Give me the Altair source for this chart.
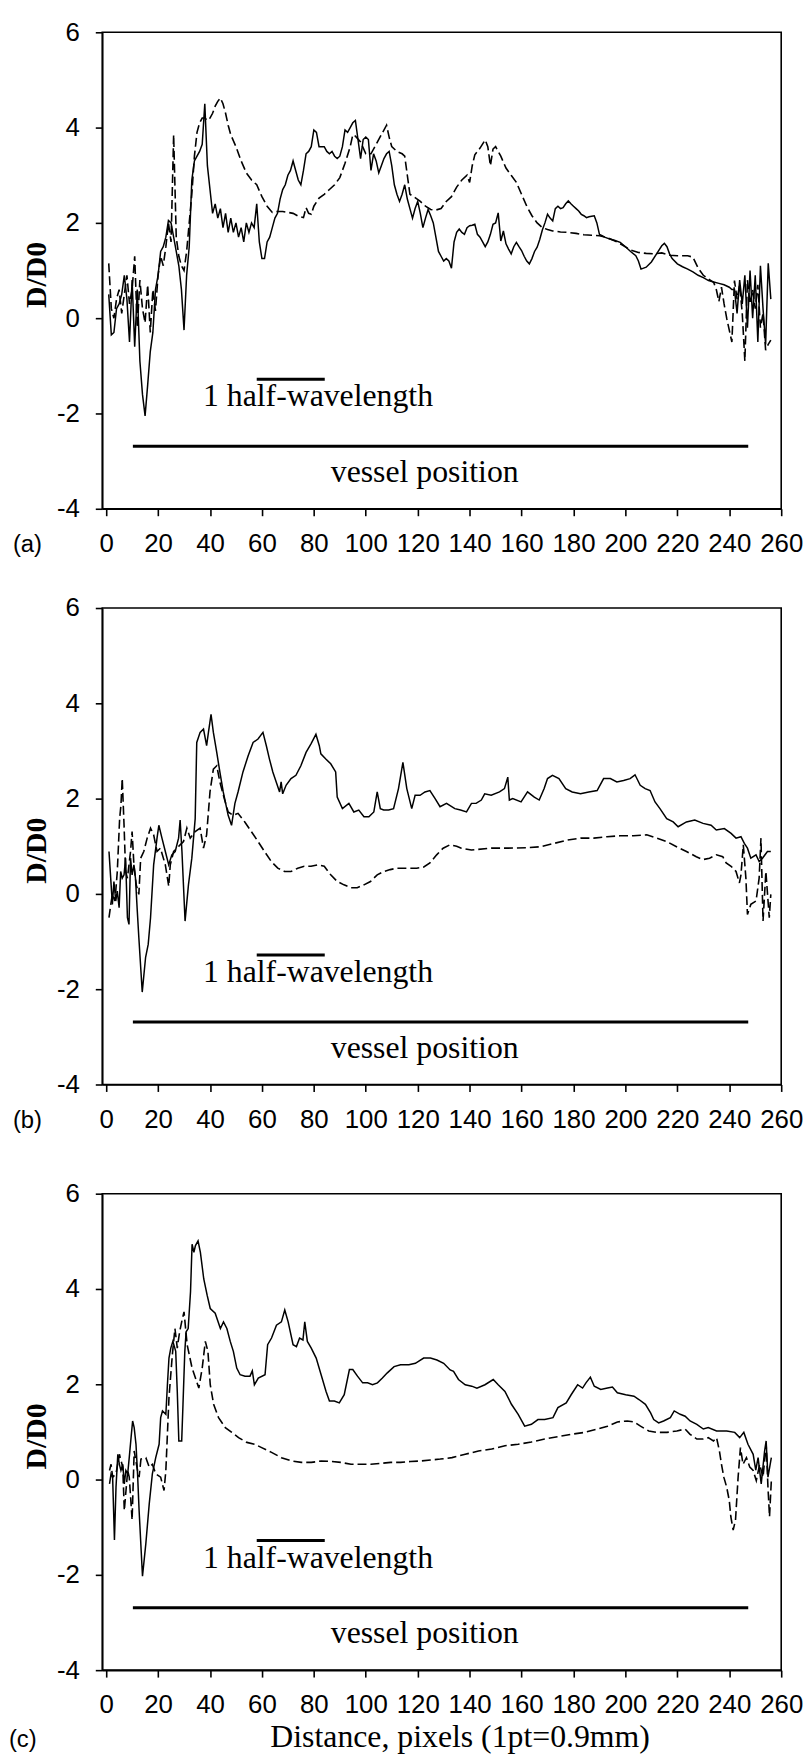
import altair as alt
import pandas as pd

# ---------------- data ----------------
X_TICKS = [0, 20, 40, 60, 80, 100, 120, 140, 160, 180, 200, 220, 240, 260]
Y_TICKS = [-4, -2, 0, 2, 4, 6]

A_SOLID = [(1,0.5),(2,-0.35),(3,-0.3),(4,0.2),(5,0.3),(6,0.5),(7,0.9),(8,0.4),(9,-0.5),(10,0.8),(11,-0.6),(12,0.6),(13,-0.9),(14,-1.6),(15,-2.05),(16,-1.4),(17,-0.7),(18,-0.3),(19,0.6),(20,0.9),(21,1.4),(22,1.5),(23,1.7),(24,2.05),(25,2.0),(26,1.7),(27,1.4),(28,1.1),(29,0.6),(30,-0.25),(31,0.9),(32,1.5),(33,2.9),(34,3.3),(35,3.4),(36,3.5),(37,3.65),(38,4.5),(39,3.2),(40,2.7),(41,2.2),(42,2.4),(43,2.1),(44,2.3),(45,1.9),(46,2.2),(47,1.8),(48,2.1),(49,1.8),(50,2.0),(51,1.7),(52,1.9),(53,1.6),(54,2.0),(55,1.8),(56,2.0),(57,1.9),(58,2.4),(59,1.6),(60,1.25),(61,1.25),(62,1.6),(63,1.7),(64,1.9),(65,2.1),(66,2.2),(67,2.5),(68,2.7),(69,2.8),(70,3.0),(71,3.1),(72,3.3),(73,3.1),(74,2.9),(75,2.8),(76,3.1),(77,3.45),(78,3.5),(79,3.6),(80,3.95),(81,3.9),(82,3.6),(83,3.6),(84,3.6),(85,3.5),(86,3.45),(87,3.5),(88,3.4),(89,3.35),(90,3.4),(91,3.6),(92,3.95),(93,3.9),(94,4.0),(95,4.1),(96,4.15),(97,3.75),(98,3.35),(99,3.75),(100,3.8),(101,3.75),(102,3.1),(103,3.45),(104,3.3),(105,3.05),(106,3.2),(107,3.35),(108,3.45),(109,3.5),(110,3.2),(111,2.8),(112,2.6),(113,2.45),(114,2.6),(115,2.8),(116,2.5),(117,2.3),(118,2.1),(119,2.3),(120,2.45),(121,2.2),(122,1.9),(123,2.1),(124,2.28),(125,2.15),(126,2.0),(127,1.7),(128,1.4),(129,1.3),(130,1.2),(131,1.25),(132,1.2),(133,1.05),(134,1.6),(135,1.8),(136,1.87),(137,1.8),(138,1.76),(139,1.9),(140,1.94),(141,1.95),(142,1.97),(143,1.76),(144,1.7),(145,1.6),(146,1.5),(147,1.6),(148,1.76),(149,1.97),(150,2.0),(151,2.21),(152,1.62),(153,1.83),(154,1.56),(155,1.45),(156,1.35),(157,1.5),(158,1.59),(159,1.5),(160,1.42),(161,1.3),(162,1.2),(163,1.14),(164,1.25),(165,1.4),(166,1.49),(167,1.65),(168,1.85),(169,2.0),(170,2.18),(171,2.1),(172,2.04),(173,2.3),(174,2.35),(175,2.3),(176,2.32),(177,2.4),(178,2.46),(179,2.4),(180,2.35),(181,2.3),(182,2.25),(183,2.18),(184,2.15),(185,2.11),(186,2.13),(187,2.14),(188,2.15),(189,2.0),(190,1.76),(191,1.73),(192,1.7),(194,1.66),(196,1.63),(198,1.59),(200,1.5),(202,1.4),(204,1.31),(205,1.2),(206,1.03),(208,1.07),(210,1.18),(212,1.35),(214,1.52),(215,1.57),(216,1.5),(217,1.35),(218,1.25),(220,1.14),(222,1.08),(224,1.03),(226,0.97),(228,0.9),(230,0.85),(232,0.79),(234,0.76),(236,0.73),(238,0.7),(240,0.65),(241,0.6),(242,0.6),(243,0.1),(244,0.8),(245,0.3),(246,0.9),(247,-0.2),(248,1.0),(249,0.0),(250,0.9),(251,-0.5),(252,1.1),(253,0.2),(254,-0.55),(255,1.15),(256,0.4)]

A_DASHED = [(1,1.15),(2,0.2),(3,0.0),(4,0.4),(5,0.6),(6,0.1),(7,0.5),(8,0.9),(9,0.3),(10,0.6),(11,1.3),(12,-0.2),(13,0.8),(14,0.2),(15,-0.1),(16,0.7),(17,-0.3),(18,0.6),(19,0.15),(20,0.9),(21,1.3),(22,1.1),(23,1.5),(24,2.0),(25,1.6),(26,3.85),(27,1.7),(28,1.3),(29,1.1),(30,1.0),(31,1.4),(32,2.0),(33,2.6),(34,3.4),(35,3.9),(36,4.1),(37,4.2),(38,4.2),(39,4.15),(40,4.2),(41,4.3),(42,4.45),(43,4.55),(44,4.62),(45,4.5),(46,4.3),(47,4.05),(48,3.85),(50,3.6),(52,3.3),(54,3.05),(56,2.9),(58,2.8),(60,2.55),(62,2.35),(64,2.22),(66,2.24),(68,2.24),(70,2.22),(72,2.2),(74,2.14),(76,2.11),(77,2.32),(78,2.2),(79,2.18),(80,2.35),(82,2.52),(84,2.6),(86,2.7),(88,2.8),(90,2.95),(92,3.25),(94,3.6),(95,3.85),(96,3.82),(98,3.7),(100,3.45),(102,3.45),(104,3.65),(106,3.85),(108,4.05),(109,3.8),(110,3.6),(112,3.5),(114,3.45),(115,3.4),(116,3.0),(117,2.6),(119,2.53),(121,2.45),(123,2.35),(125,2.28),(127,2.27),(129,2.3),(131,2.45),(133,2.55),(135,2.75),(137,2.9),(139,3.0),(140,2.85),(141,3.2),(142,3.43),(144,3.57),(146,3.74),(147,3.6),(148,3.2),(149,3.55),(150,3.6),(152,3.4),(154,3.15),(156,3.0),(158,2.85),(160,2.6),(162,2.35),(164,2.15),(166,2.0),(168,1.9),(170,1.86),(172,1.83),(175,1.81),(178,1.8),(181,1.78),(184,1.75),(187,1.74),(190,1.73),(193,1.69),(196,1.62),(199,1.53),(202,1.43),(205,1.38),(208,1.36),(211,1.35),(214,1.37),(217,1.32),(220,1.31),(224,1.31),(226,1.28),(228,1.05),(230,0.9),(232,0.82),(234,0.75),(235,0.6),(236,0.35),(237,0.65),(238,0.3),(239,0.0),(240,-0.25),(241,-0.5),(242,0.79),(243,0.4),(244,0.7),(245,0.1),(246,-0.9),(247,0.8),(248,0.3),(249,0.6),(250,0.2),(251,0.7),(252,-0.2),(253,0.1),(254,-0.67),(255,-0.55),(256,-0.46)]

B_SOLID = [(1.1,0.89),(2.4,-0.22),(3.0,0.26),(3.7,-0.15),(4.3,0.06),(5.0,-0.29),(5.6,0.47),(6.2,0.33),(6.9,0.4),(7.5,0.75),(8.2,-0.5),(8.8,-0.64),(9.4,0.75),(10.0,0.4),(10.7,0.61),(11.3,0.33),(12.0,-0.36),(12.6,-0.92),(13.9,-2.06),(15.2,-1.33),(16.2,-1.06),(17.1,-0.5),(18.3,0.61),(19.6,1.17),(20.3,1.44),(21.5,1.17),(22.8,0.89),(24.1,0.61),(25.3,0.82),(26.6,0.89),(27.9,1.17),(28.5,1.55),(29.2,0.89),(30.4,-0.57),(31.7,0.19),(33.0,0.75),(34.3,1.58),(34.9,3.18),(36.2,3.39),(37.5,3.46),(38.7,3.11),(39.4,3.39),(40.4,3.77),(41.3,3.39),(42.6,2.97),(43.8,2.56),(45.1,2.14),(47.0,1.65),(48.3,1.44),(49.6,1.9),(50.8,2.14),(52.7,2.56),(54.7,2.9),(56.6,3.18),(58.5,3.25),(60.4,3.39),(61.7,3.11),(62.9,2.83),(64.2,2.56),(65.5,2.35),(66.8,2.14),(67.4,2.35),(68.0,2.1),(69.3,2.28),(71.2,2.42),(73.1,2.49),(75.0,2.69),(77.0,2.97),(78.9,3.15),(80.8,3.35),(82.1,3.11),(82.7,2.94),(84.6,2.83),(86.5,2.73),(88.4,2.56),(89.0,2.03),(91.0,1.79),(93.5,1.9),(95.4,1.72),(97.3,1.76),(99.3,1.62),(101.2,1.62),(103.1,1.72),(104.4,2.14),(105.6,1.79),(106.9,1.76),(108.8,1.76),(110.7,1.79),(112.6,2.21),(114.3,2.76),(115.8,2.21),(117.7,1.79),(119.0,2.07),(120.9,2.07),(122.8,2.14),(124.7,2.17),(126.7,2.0),(128.6,1.83),(131.1,1.9),(134.3,1.79),(136.5,1.76),(138.8,1.72),(140.7,1.9),(142.5,1.9),(144.5,1.97),(145.8,2.1),(148.3,2.07),(151.5,2.14),(153.4,2.21),(154.7,2.45),(155.3,1.97),(156.6,2.0),(159.8,1.93),(162.3,2.14),(164.9,2.03),(166.8,1.97),(168.7,2.21),(170.0,2.42),(171.9,2.49),(174.4,2.42),(177.0,2.21),(179.5,2.14),(182.7,2.1),(185.9,2.14),(189.1,2.17),(191.6,2.42),(194.2,2.42),(196.7,2.35),(199.3,2.38),(201.8,2.42),(203.7,2.5),(205.7,2.28),(207.6,2.21),(209.5,2.17),(211.4,1.93),(213.3,1.79),(215.9,1.58),(218.4,1.51),(220.3,1.41),(223.5,1.51),(226.7,1.55),(229.9,1.48),(233.0,1.44),(235.0,1.34),(238.1,1.37),(240.7,1.27),(242.6,1.17),(244.5,1.2),(245.8,1.06),(247.0,0.96),(248.3,0.75),(250.3,0.82),(251.5,0.68),(252.8,0.75),(254.7,0.89),(256.0,0.89)]

B_DASHED = [(1.1,-0.5),(1.8,-0.22),(2.4,-0.01),(3.4,-0.15),(4.3,0.47),(5.2,1.58),(5.7,1.86),(6.2,2.42),(6.9,1.44),(7.5,0.47),(8.2,0.33),(9.4,0.89),(10.0,1.31),(10.7,0.61),(11.6,0.19),(12.6,-0.01),(13.3,0.75),(14.5,0.89),(15.8,1.17),(17.1,1.38),(18.3,1.24),(19.6,0.89),(20.9,0.96),(22.8,0.61),(24.1,0.16),(24.7,0.61),(26.0,0.89),(27.3,0.96),(28.5,1.03),(29.8,1.1),(31.1,1.38),(32.4,1.17),(34.3,1.31),(36.2,1.38),(37.5,0.96),(38.7,1.24),(40.0,2.14),(41.3,2.62),(42.6,2.69),(43.8,2.35),(45.5,2.0),(47.0,1.72),(48.9,1.65),(50.8,1.69),(53.4,1.51),(55.9,1.31),(58.5,1.1),(61.0,0.89),(63.6,0.68),(66.1,0.54),(68.7,0.47),(71.2,0.47),(73.8,0.54),(76.3,0.58),(78.9,0.58),(81.4,0.61),(84.0,0.58),(86.5,0.4),(89.0,0.26),(91.6,0.19),(94.2,0.13),(96.7,0.13),(99.3,0.19),(101.8,0.26),(104.4,0.4),(106.9,0.47),(109.4,0.51),(112.0,0.54),(114.5,0.54),(117.1,0.54),(119.6,0.54),(122.2,0.56),(124.7,0.65),(127.3,0.82),(129.8,0.96),(132.4,1.03),(135.0,1.0),(136.8,0.96),(140.7,0.92),(148.3,0.96),(154.7,0.96),(162.3,0.97),(167.4,0.99),(172.5,1.06),(177.6,1.13),(182.7,1.17),(187.8,1.17),(192.9,1.2),(198.0,1.22),(203.1,1.22),(208.2,1.24),(212.0,1.17),(215.9,1.1),(219.7,0.99),(223.5,0.89),(227.3,0.78),(229.9,0.72),(232.4,0.75),(235.0,0.82),(237.5,0.78),(238.8,0.65),(240.7,0.58),(242.6,0.47),(243.9,0.23),(244.5,0.4),(245.4,1.03),(246.4,0.33),(247.0,-0.43),(248.3,-0.22),(250.3,-0.15),(251.5,0.33),(252.2,1.17),(253.0,-0.57),(254.1,0.47),(255.4,-0.5),(256.0,-0.01)]

C_SOLID = [(1.3,-0.09),(1.9,0.12),(2.5,0.05),(3.2,-1.27),(3.8,-0.16),(4.5,0.53),(5.1,0.32),(5.7,0.19),(6.4,0.32),(7.0,-0.09),(7.6,0.19),(8.3,0.12),(8.9,0.46),(9.6,0.88),(10.2,1.23),(10.8,1.09),(11.5,0.74),(12.1,0.12),(12.7,-0.65),(14.0,-2.03),(15.3,-1.34),(16.6,-0.51),(17.8,0.12),(19.1,0.46),(20.4,0.74),(21.0,1.3),(21.7,1.44),(23.0,1.37),(23.6,1.99),(24.2,2.55),(24.9,2.76),(25.7,2.9),(26.8,2.69),(27.4,1.85),(28.0,0.81),(29.1,0.81),(29.6,1.58),(30.3,2.69),(30.8,3.1),(31.6,3.17),(32.5,3.94),(33.1,4.94),(33.8,4.77),(34.4,4.91),(35.4,5.01),(36.3,4.77),(37.6,4.21),(38.9,3.87),(40.1,3.59),(42.0,3.49),(44.0,3.17),(45.2,3.31),(46.5,3.17),(47.8,2.9),(49.0,2.69),(50.3,2.34),(51.6,2.2),(53.5,2.17),(55.4,2.17),(56.3,2.28),(57.1,1.99),(58.6,2.13),(61.2,2.2),(62.2,2.83),(63.7,2.97),(65.6,3.24),(67.5,3.31),(68.8,3.56),(70.1,3.31),(72.0,2.83),(73.3,2.79),(74.5,2.97),(75.8,2.93),(76.5,3.31),(77.5,2.9),(79.0,2.76),(80.9,2.55),(82.8,2.2),(84.7,1.85),(86.0,1.65),(87.9,1.65),(89.8,1.61),(91.7,1.78),(93.7,2.31),(95.0,2.31),(96.8,2.17),(98.8,2.03),(100.7,2.03),(102.6,1.99),(104.5,2.03),(106.4,2.13),(108.3,2.24),(110.9,2.37),(113.4,2.41),(116.6,2.41),(119.1,2.44),(122.3,2.55),(124.9,2.55),(127.4,2.51),(130.0,2.44),(132.5,2.3),(133.8,2.27),(135.7,2.1),(138.3,1.99),(140.8,1.96),(142.8,1.92),(145.9,1.99),(149.1,2.1),(151.0,1.99),(153.6,1.85),(156.1,1.58),(158.7,1.37),(161.2,1.12),(163.8,1.16),(166.3,1.26),(168.9,1.26),(172.1,1.3),(174.0,1.51),(177.2,1.61),(179.1,1.78),(181.6,1.99),(183.5,1.92),(184.8,2.03),(186.5,2.15),(188.0,1.96),(190.5,1.89),(193.1,1.92),(195.0,1.94),(196.9,1.82),(200.1,1.78),(203.3,1.75),(205.2,1.68),(207.7,1.58),(209.7,1.4),(210.9,1.26),(212.8,1.19),(214.7,1.23),(217.3,1.3),(218.8,1.44),(221.1,1.37),(223.0,1.33),(224.9,1.23),(227.5,1.16),(230.0,1.06),(231.9,1.09),(235.1,1.02),(239.0,1.02),(242.1,0.99),(244.0,0.88),(245.6,0.99),(247.2,0.74),(249.2,0.53),(250.2,0.2),(251.1,0.46),(252.3,-0.09),(253.6,0.6),(254.2,0.81),(254.9,0.05),(256.2,0.46)]

C_DASHED = [(1.3,0.19),(1.9,0.32),(2.5,0.05),(3.8,0.12),(5.1,0.53),(6.4,0.26),(7.0,-0.65),(8.3,0.19),(8.9,0.05),(9.6,-0.51),(10.0,-0.85),(10.8,0.6),(12.1,0.19),(12.7,0.05),(13.4,0.43),(15.3,0.46),(16.6,0.26),(17.8,0.32),(19.1,0.12),(21.0,0.05),(22.3,-0.23),(23.0,0.19),(24.2,1.72),(25.5,2.62),(26.5,3.17),(27.4,2.76),(28.3,3.1),(29.1,3.31),(30.0,3.52),(31.2,2.83),(33.1,2.34),(34.4,2.13),(35.7,1.92),(37.0,2.34),(38.2,2.9),(39.2,2.69),(40.1,1.99),(41.4,1.58),(43.3,1.3),(45.9,1.09),(48.4,0.99),(51.0,0.88),(54.2,0.78),(57.3,0.74),(59.9,0.67),(63.7,0.57),(67.5,0.46),(71.4,0.39),(75.2,0.36),(79.0,0.36),(82.8,0.39),(86.7,0.38),(90.5,0.36),(94.3,0.32),(98.1,0.32),(101.9,0.32),(105.8,0.34),(109.6,0.36),(113.4,0.36),(117.2,0.38),(121.1,0.39),(124.9,0.41),(128.7,0.43),(133.2,0.46),(138.3,0.53),(143.4,0.6),(148.5,0.64),(153.6,0.71),(158.7,0.74),(163.8,0.79),(168.9,0.85),(174.0,0.9),(179.1,0.95),(184.2,0.99),(189.3,1.06),(193.1,1.12),(196.9,1.21),(200.7,1.23),(203.3,1.21),(205.8,1.12),(209.0,1.02),(212.2,0.99),(216.0,0.99),(219.8,1.02),(223.0,1.06),(224.9,0.95),(227.5,0.85),(230.0,0.85),(231.9,0.88),(233.9,0.81),(235.1,0.88),(236.2,0.6),(237.0,0.32),(237.9,0.05),(239.0,-0.16),(240.0,-0.44),(240.6,-0.78),(241.5,-1.06),(242.4,-0.85),(243.4,0.05),(244.3,0.67),(245.3,0.32),(246.6,0.46),(247.9,0.26),(249.2,0.19),(250.4,-0.02),(251.7,0.32),(253.0,0.05),(254.2,0.74),(254.9,-0.16),(255.5,-0.78),(256.2,-0.02)]

# annotations (data coordinates)
HALF_WAVE_BAR = {"x": [58.0], "x2": [84.2], "y": [-1.28]}
HALF_WAVE_TEXT = {"x": [81.6], "y": [-1.85], "t": ["1 half-wavelength"]}
VESSEL_BAR = {"x": [10.3], "x2": [247.3], "y": [-2.69]}
VESSEL_TEXT = {"x": [122.7], "y": [-3.44], "t": ["vessel position"]}
PANEL_LABELS = ["(a)", "(b)", "(c)"]
Y_TITLE = "D/D0"
X_TITLE = "Distance, pixels (1pt=0.9mm)"

# ---------------- chart ----------------
W, H = 684, 480
XDOM = [-1.5, 260]
YDOM = [-4, 6]
SERIF = "Liberation Serif"
SANS = "Liberation Sans"
PLAIN_LABEL = "'' + datum.value"   # hyphen-minus like the original


def panel(solid, dashed, label, last, label_dx):
    xaxis_kw = dict(values=X_TICKS, labelFlush=False, labelOverlap=False, grid=False,
                    labelExpr=PLAIN_LABEL)
    if last:
        xaxis_kw.update(title=X_TITLE, titleFont=SERIF, titleFontSize=32,
                        titleFontWeight="normal", titleY=77, titleX=W / 2 + 18,
                        titleBaseline="alphabetic", titleColor="black")
    else:
        xaxis_kw.update(title="")
    x = alt.X("x:Q", scale=alt.Scale(domain=XDOM, nice=False, zero=False),
              axis=alt.Axis(**xaxis_kw))
    y = alt.Y("y:Q", scale=alt.Scale(domain=YDOM, nice=False, zero=False),
              axis=alt.Axis(values=Y_TICKS, title=Y_TITLE, grid=False, labelExpr=PLAIN_LABEL,
                            titleFont=SERIF, titleFontSize=30, titleFontWeight="bold",
                            titleColor="black", titleAngle=270, titleX=-66, titleY=H / 2 + 4,
                            titleAlign="center", titleBaseline="middle"))

    s = alt.Chart(pd.DataFrame(solid, columns=["x", "y"])).mark_line(
        color="black", strokeWidth=1.5, interpolate="linear").encode(x=x, y=y)
    d = alt.Chart(pd.DataFrame(dashed, columns=["x", "y"])).mark_line(
        color="black", strokeWidth=1.6, strokeDash=[9, 4]).encode(x=x, y=y)
    hw = alt.Chart(pd.DataFrame(HALF_WAVE_BAR)).mark_rule(
        color="black", strokeWidth=3).encode(x=x, x2="x2:Q", y=y)
    hwt = alt.Chart(pd.DataFrame(HALF_WAVE_TEXT)).mark_text(
        font=SERIF, fontSize=32, align="center", baseline="alphabetic",
        color="black").encode(x=x, y=y, text="t:N")
    vb = alt.Chart(pd.DataFrame(VESSEL_BAR)).mark_rule(
        color="black", strokeWidth=3).encode(x=x, x2="x2:Q", y=y)
    vt = alt.Chart(pd.DataFrame(VESSEL_TEXT)).mark_text(
        font=SERIF, fontSize=32, align="center", baseline="alphabetic",
        color="black").encode(x=x, y=y, text="t:N")
    if last:
        lab = alt.Chart(pd.DataFrame({"t": [label]})).mark_text(
            font=SANS, fontSize=24, align="left", baseline="alphabetic",
            color="black").encode(x=alt.value(label_dx), y=alt.value(H + 77), text="t:N")
    else:
        lab = alt.Chart(pd.DataFrame({"t": [label]})).mark_text(
            font=SANS, fontSize=24, align="left", baseline="middle",
            color="black").encode(x=alt.value(label_dx), y=alt.value(H + 37), text="t:N")
    return alt.layer(s, d, hw, hwt, vb, vt, lab).properties(width=W, height=H)


pa = panel(A_SOLID, A_DASHED, PANEL_LABELS[0], False, -90)
pb = panel(B_SOLID, B_DASHED, PANEL_LABELS[1], False, -90)
pc = panel(C_SOLID, C_DASHED, PANEL_LABELS[2], True, -94)

top = alt.vconcat(pa, pb, spacing=36)
chart = alt.vconcat(top, pc, spacing=46).properties(
    padding={"left": 8, "top": 12, "right": 5, "bottom": 2},
    background="white",
).configure_view(
    stroke="black", strokeWidth=1.6
).configure_axis(
    domainColor="black", domainWidth=1.6, tickColor="black", tickWidth=1.6,
    tickSize=7, labelFont=SANS, labelFontSize=26, labelColor="black",
).configure_axisX(
    labelPadding=15
).configure_axisY(
    labelPadding=16
)

chart.save("out.html", embed_options={"renderer": "svg", "actions": False})
